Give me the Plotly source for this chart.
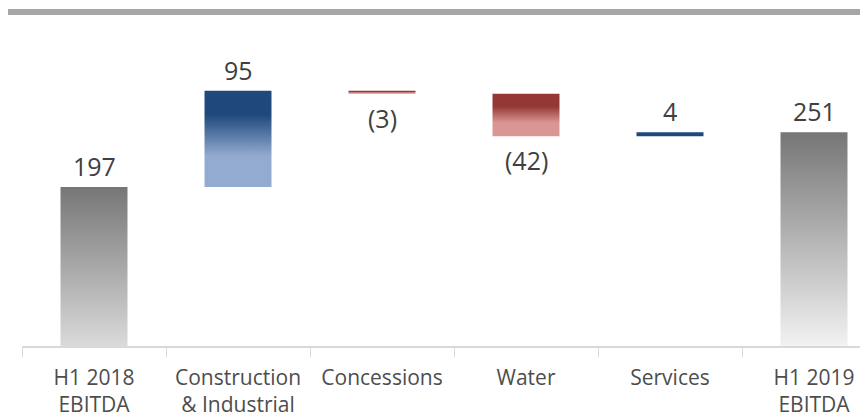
import plotly.graph_objects as go

# chart values
categories = ["H1 2018<br>EBITDA", "Construction<br>& Industrial", "Concessions",
              "Water", "Services", "H1 2019<br>EBITDA"]
start_total = 197
changes = [95, -3, -42, 4]
end_total = 251

# styles
FONT = "Open Sans, sans-serif"
TEXT = "#404040"
HALF_W = 0.2326
grad = {
    "start": [[0, "#dadada"], [1, "#767676"]],
    "end": [[0, "#f2f2f2"], [1, "#767676"]],
    "up": [[0, "#93abd0"], [0.32, "#93abd0"], [0.75, "#1f497d"], [1, "#1f497d"]],
    "down": [[0, "#da9694"], [0.32, "#da9694"], [0.7, "#953735"], [1, "#953735"]],
}

# waterfall bases / tops
bars = [(0, start_total, "start")]
level = start_total
for c in changes:
    new = level + c
    bars.append((min(level, new), max(level, new), "up" if c >= 0 else "down"))
    level = new
bars.append((0, end_total, "end"))

y_min = 40
fig = go.Figure()
for i, (lo, hi, kind) in enumerate(bars):
    lo = max(lo, y_min)
    if i == 4:
        style = dict(fillcolor="#1f497d")
    else:
        style = dict(fillgradient=dict(type="vertical", colorscale=grad[kind]))
    fig.add_trace(go.Scatter(
        x=[i - HALF_W, i + HALF_W, i + HALF_W, i - HALF_W, i - HALF_W],
        y=[lo, lo, hi, hi, lo],
        mode="lines", fill="toself", line=dict(width=0),
        hoverinfo="skip", showlegend=False, **style
    ))

# value labels
labels = [str(start_total)] + [str(c) if c >= 0 else f"({-c})" for c in changes] + [str(end_total)]
for i, ((lo, hi, kind), txt) in enumerate(zip(bars, labels)):
    if kind == "down":
        fig.add_annotation(x=i, y=lo, text=txt, showarrow=False, yanchor="top",
                           yshift=-5, font=dict(size=25, color=TEXT, family=FONT))
    else:
        fig.add_annotation(x=i, y=hi, text=txt, showarrow=False, yanchor="bottom",
                           yshift=2, font=dict(size=25, color=TEXT, family=FONT))

# header rule
fig.add_shape(type="line", xref="paper", yref="paper", x0=-0.03, x1=1.02,
              y0=1.0245, y1=1.0245, line=dict(color="#a6a6a6", width=6))

fig.update_layout(
    width=868, height=414,
    margin=dict(l=14, r=8, t=12, b=76),
    paper_bgcolor="white", plot_bgcolor="white",
    font=dict(family=FONT, color="#595959"),
    xaxis=dict(
        range=[-0.5, 5.375], tickvals=list(range(len(categories))), ticktext=categories,
        showgrid=False, zeroline=False, showline=True, linecolor="#d9d9d9", linewidth=1.5,
        ticks="", ticklabelstandoff=12, automargin=False,
        tickfont=dict(size=21, color="#4d4d4d", family=FONT),
        minor=dict(tickvals=[i - 0.5 for i in range(len(categories) + 1)],
                   ticks="outside", ticklen=9, tickcolor="#d9d9d9", tickwidth=1),
    ),
    yaxis=dict(range=[y_min, y_min + 326 / 1.013], visible=False),
)

fig.write_html("out.html")
